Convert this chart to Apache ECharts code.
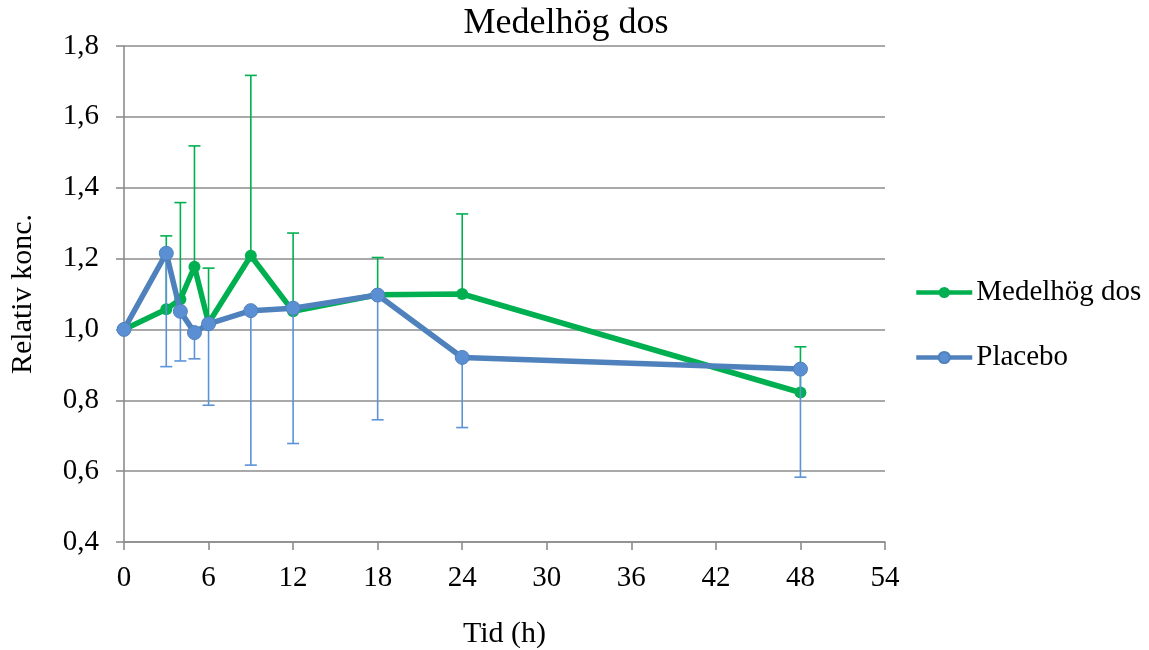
<!DOCTYPE html>
<html>
<head>
<meta charset="utf-8">
<script src="https://cdn.jsdelivr.net/npm/echarts@6/dist/echarts.min.js"></script>
<style>html,body{margin:0;padding:0;background:#fff}#c{width:1149px;height:650px}</style>
</head>
<body>
<div id="c"></div>
<script>
const timeH = [0, 3, 4, 5, 6, 9, 12, 18, 24, 48];
const medelhogMean = [1.0, 1.057, 1.085, 1.177, 1.018, 1.208, 1.051, 1.098, 1.100, 0.822];
const medelhogUpper = [null, 1.264, 1.358, 1.518, 1.173, 1.717, 1.272, 1.203, 1.326, 0.951];
const placeboMean = [1.0, 1.215, 1.051, 0.991, 1.016, 1.053, 1.060, 1.097, 0.921, 0.888];
const placeboLower = [null, 0.895, 0.911, 0.917, 0.786, 0.617, 0.678, 0.745, 0.723, 0.583];
const xTicks = [0, 6, 12, 18, 24, 30, 36, 42, 48, 54];
const yTicks = [0.4, 0.6, 0.8, 1.0, 1.2, 1.4, 1.6, 1.8];

const FONT = '"Liberation Serif", "Times New Roman", serif';
const GREEN = '#00B050';
const BLUE = '#4F81BD';
const BLUE_MARK = '#5B8FD3';
const BLUE_ERR = '#5B93D8';
const GRID = '#8C8C8C';

function pairs(ys) { return timeH.map((t, i) => [t, ys[i]]); }
function errData(mean, end) {
  const out = [];
  timeH.forEach((t, i) => { if (end[i] != null) out.push([t, mean[i], end[i]]); });
  return out;
}
function errRender(color) {
  return function (params, api) {
    const x = api.value(0), m = api.value(1), e = api.value(2);
    const p1 = api.coord([x, m]);
    const p2 = api.coord([x, e]);
    const cap = 6;
    return {
      type: 'group',
      children: [
        { type: 'line', shape: { x1: p1[0], y1: p1[1], x2: p2[0], y2: p2[1] }, style: { stroke: color, lineWidth: 1.6 } },
        { type: 'line', shape: { x1: p2[0] - cap, y1: p2[1], x2: p2[0] + cap, y2: p2[1] }, style: { stroke: color, lineWidth: 1.6 } }
      ]
    };
  };
}

const chart = echarts.init(document.getElementById('c'), null, { renderer: 'canvas' });
chart.setOption({
  animation: false,
  backgroundColor: '#fff',
  title: {
    text: 'Medelhög dos', left: 566, top: 6, textAlign: 'center', padding: 0,
    textStyle: { fontFamily: FONT, fontSize: 36, fontWeight: 'normal', color: '#000' }
  },
  legend: {
    orient: 'vertical', left: 914, top: 278, itemWidth: 56, itemHeight: 14, itemGap: 36,
    padding: 0,
    lineStyle: { width: 4.5 },
    data: ['Medelhög dos', 'Placebo'],
    textStyle: { fontFamily: FONT, fontSize: 29, color: '#000', padding: [0, 0, 0, -1] }
  },
  grid: { left: 124, right: 264, top: 46, bottom: 108, containLabel: false, outerBoundsMode: 'none' },
  xAxis: {
    type: 'value', min: 0, max: 54, interval: 6,
    name: 'Tid (h)', nameLocation: 'middle', nameGap: 77,
    nameTextStyle: { fontFamily: FONT, fontSize: 30, color: '#000' },
    axisLine: { show: true, onZero: false, lineStyle: { color: GRID, width: 1.6 } },
    axisTick: { show: true, length: 8, lineStyle: { color: GRID, width: 1.6 } },
    axisLabel: { fontFamily: FONT, fontSize: 29, color: '#000', margin: 22, formatter: v => String(v) },
    splitLine: { show: false }
  },
  yAxis: {
    type: 'value', min: 0.4, max: 1.8, interval: 0.2,
    name: 'Relativ konc.', nameLocation: 'middle', nameGap: 86, nameRotate: 90,
    nameTextStyle: { fontFamily: FONT, fontSize: 30, color: '#000' },
    axisLine: { show: true, lineStyle: { color: GRID, width: 1.6 } },
    axisTick: { show: true, length: 8, lineStyle: { color: GRID, width: 1.6 } },
    axisLabel: { fontFamily: FONT, fontSize: 29, color: '#000', margin: 25,
      formatter: v => v.toFixed(1).replace('.', ',') },
    splitLine: { show: true, lineStyle: { color: GRID, width: 1.6 } }
  },
  series: [
    {
      name: 'Medelhög dos err', type: 'custom', renderItem: errRender(GREEN),
      data: errData(medelhogMean, medelhogUpper), z: 2, silent: true
    },
    {
      name: 'Medelhög dos', type: 'line', data: pairs(medelhogMean), z: 3,
      symbol: 'circle', symbolSize: 12,
      lineStyle: { color: GREEN, width: 5.5 },
      itemStyle: { color: GREEN, borderColor: GREEN, borderWidth: 0 }
    },
    {
      name: 'Placebo err', type: 'custom', renderItem: errRender(BLUE_ERR),
      data: errData(placeboMean, placeboLower), z: 4, silent: true
    },
    {
      name: 'Placebo', type: 'line', data: pairs(placeboMean), z: 5,
      symbol: 'circle', symbolSize: 14,
      lineStyle: { color: BLUE, width: 5.5 },
      itemStyle: { color: BLUE_MARK, borderColor: BLUE, borderWidth: 1 }
    }
  ]
});
</script>
</body>
</html>
